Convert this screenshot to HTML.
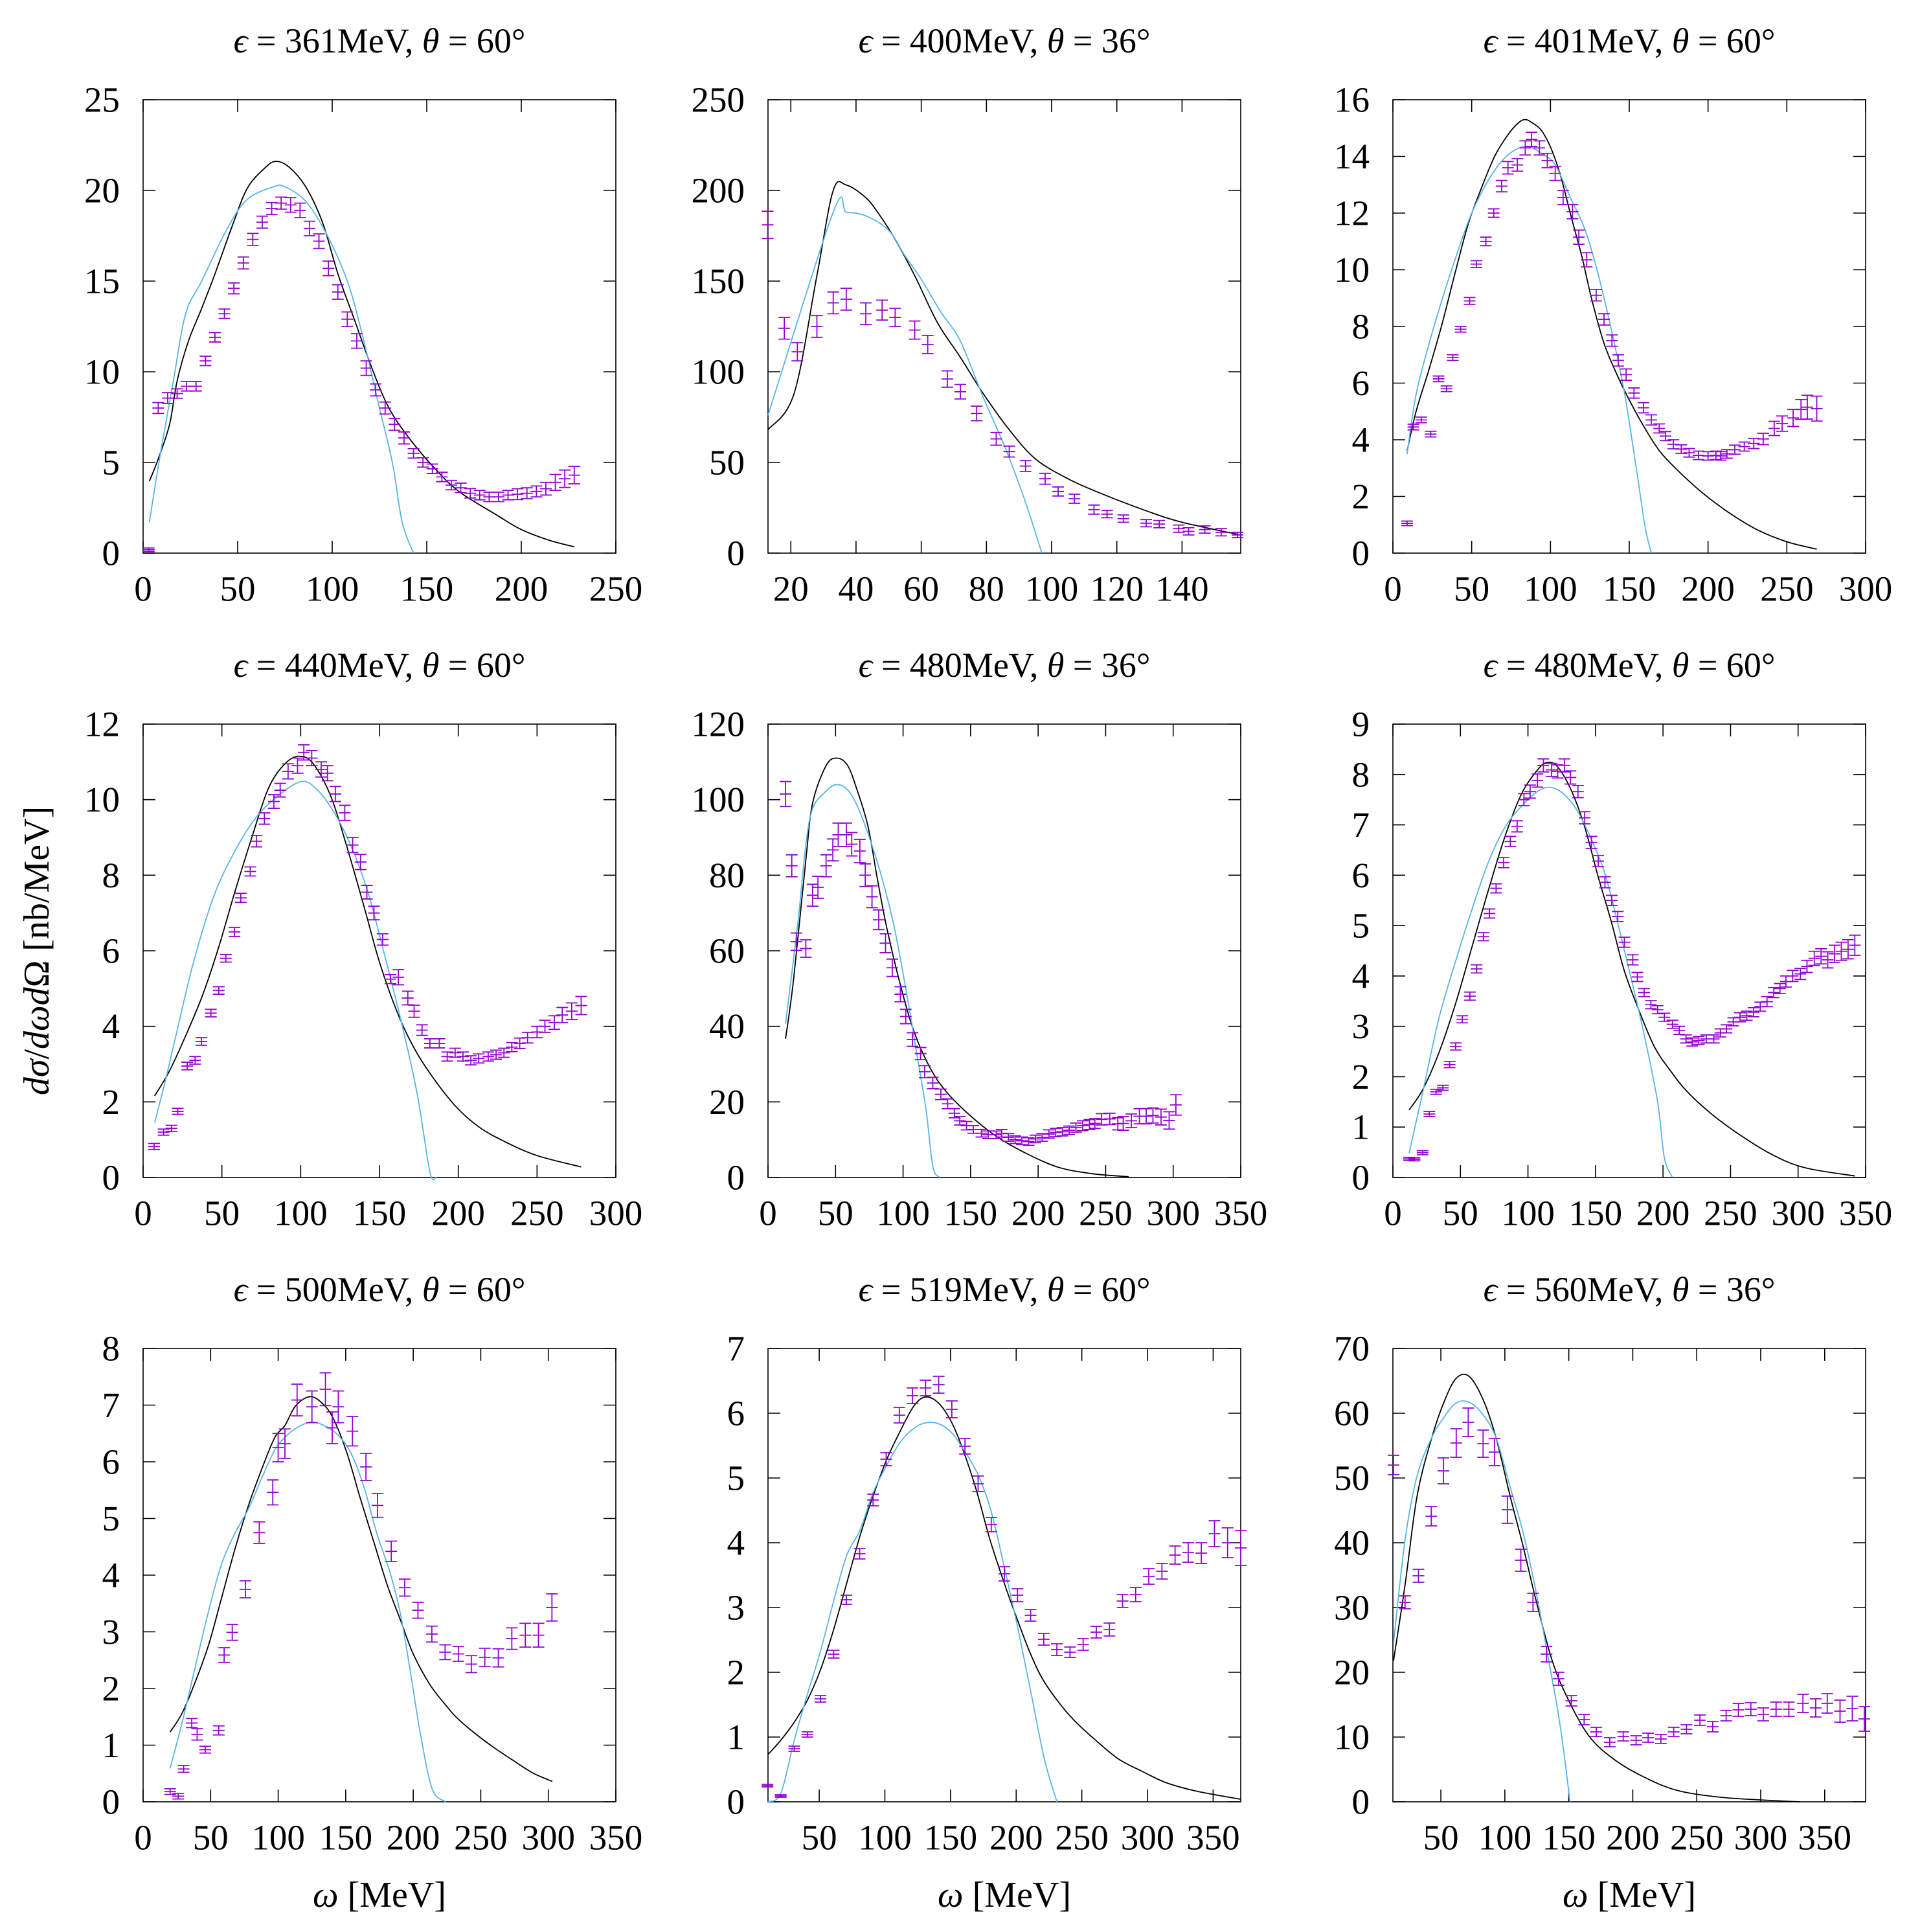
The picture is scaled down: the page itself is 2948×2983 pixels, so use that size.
<!DOCTYPE html>
<html><head><meta charset="utf-8"><title>Cross section panels</title>
<style>
html,body{margin:0;padding:0;background:#fff;}
svg{display:block;}
text{font-family:"Liberation Serif","DejaVu Serif",serif;fill:#000;}
</style></head>
<body>
<svg id="fig" xmlns="http://www.w3.org/2000/svg" width="2948" height="2983" viewBox="0 0 2948 2983"></svg>
<script>
// ---------- Panel 1: 361 MeV, 60 deg ----------
const p1Black=[[3.3,3.96],[8,5.2],[14,7.1],[18,9.5],[24,11.7],[31,13.5],[38,15.4],[47,18],[55,20.1],[64,21.2],[70,21.6],[77,21.3],[86,20.2],[95,18.2],[103,15.4],[112,12.8],[121,10.2],[130,8],[141,6.3],[154,4.7],[167,3.4],[187,2.1],[200,1.3],[215,0.7],[228,0.35]];
const p1Blue=[[3.3,1.7],[9,5.4],[16,9.5],[22.5,13.2],[31,15],[44,17.8],[55,19.5],[69,20.2],[75,20.2],[86,19.4],[97,17.6],[108,15],[116,12],[125,8],[132,4.9],[137,1.7],[143,0]];
const p1DataX=[3,8,13,18,23,28,33,38,43,48,53,58,63,68,73,78,83,88,93,98,103,108,113,118,123,128,133,138,143,148,153,158,163,168,173,178,183,188,193,198,203,208,213,218,223,228];
const p1DataY=[0.18,8.0,8.55,8.8,9.2,9.2,10.6,11.9,13.2,14.6,16.0,17.3,18.25,19.0,19.3,19.2,18.9,17.9,17.2,15.7,14.4,12.9,11.7,10.2,9.0,8.0,7.1,6.35,5.5,5.0,4.65,4.2,3.75,3.6,3.3,3.2,3.1,3.1,3.2,3.25,3.3,3.4,3.55,3.9,4.1,4.3];
const p1Err=[0.1,0.3,0.3,0.26,0.26,0.26,0.26,0.26,0.26,0.3,0.33,0.33,0.33,0.33,0.33,0.4,0.4,0.4,0.4,0.4,0.4,0.4,0.4,0.4,0.33,0.33,0.33,0.33,0.26,0.26,0.26,0.26,0.26,0.26,0.26,0.26,0.26,0.26,0.26,0.3,0.3,0.3,0.35,0.44,0.48,0.48];
const p1XTicks=[0,50,100,150,200,250];
const p1YTicks=[0,5,10,15,20,25];

// ---------- Panel 2: 400 MeV, 36 deg ----------
const p2Black=[[13,68],[21,88],[28,153],[33,200],[37,203],[43,196],[47,187],[52,173],[58,153],[65,127],[72,108],[79,88],[87,68],[95,52],[105,41],[115,33],[128,24],[140,17],[158,10]];
const p2Blue=[[13,76],[33,188],[37,188],[43,186],[50,178],[55,164],[60,151],[66,133],[72,117],[79,86],[86,57],[92,28],[97,0]];
const p2DataX=[12.9,18,22,28,33,37,43,48,52,58,62,68,72,77,83,87,92,98,102,107,113,117,122,129,133,139,142,147,152,157];
const p2DataY=[181,124,111,125,138,140,132,134,130,123,115,96,89,77,63,56,48,41,34,30,24,21.5,19,16.5,16,13.5,12,13,11.5,10];
const p2Err=[7.5,6,5,6,6,6,6,5.5,5,5,5,4.5,4,4,3.5,3,3,3,2.5,2.5,2.5,2,2,2,2,2,2,2,2,1.5];
const p2XTicks=[20,40,60,80,100,120,140];
const p2YTicks=[0,50,100,150,200,250];

// ---------- Panel 3: 401 MeV, 60 deg ----------
const p3Black=[[9,3.6],[14.7,5.0],[23,6.5],[31.5,8.15],[40,10],[48,11.65],[57,13],[65,14.05],[73.5,14.8],[80,15.2],[84,15.3],[88,15.2],[94.5,14.9],[101,14.2],[107,13.2],[113,11.9],[120,10.45],[126,9.0],[134,7.4],[143,6.2],[151,5.3],[160,4.4],[170,3.55],[183,2.8],[197,2.1],[214,1.4],[231,0.83],[250,0.4],[269,0.14]];
const p3Blue=[[9,3.5],[14.7,5.6],[23,7.4],[31.5,9.0],[40,10.45],[50,12],[61,13.2],[71,13.95],[80,14.3],[87,14.33],[94.5,14.1],[103,13.7],[113,12.5],[122,11.4],[130,9.9],[139,7.8],[147,5.64],[155,2.8],[160,0.94],[164,0]];
const p3DataX=[9,13,18,24,29,34,38,43,48.7,53,59,64,69,73,79,84,88,93,98,103,108,114,118,123,129,134,139,143,148,153,159,164,169,173,178,183,188,194,200,205,208,212,217,223,229,235,242,247,254,259,263,269];
const p3DataY=[1.05,4.45,4.7,4.2,6.15,5.8,6.9,7.9,8.9,10.2,11.0,12.0,12.95,13.6,13.7,14.3,14.6,14.3,13.85,13.4,12.55,12.05,11.15,10.35,9.1,8.25,7.5,6.8,6.3,5.65,5.13,4.7,4.4,4.13,3.84,3.67,3.54,3.45,3.43,3.45,3.43,3.5,3.65,3.76,3.87,4.03,4.4,4.57,4.77,5.07,5.15,5.1];
const p3Err=[0.08,0.1,0.1,0.1,0.1,0.1,0.1,0.1,0.12,0.12,0.15,0.15,0.2,0.22,0.22,0.25,0.25,0.25,0.25,0.25,0.25,0.25,0.25,0.25,0.2,0.2,0.2,0.2,0.2,0.18,0.18,0.18,0.16,0.16,0.16,0.15,0.15,0.15,0.15,0.15,0.15,0.15,0.16,0.16,0.18,0.2,0.25,0.27,0.3,0.35,0.42,0.44];
const p3XTicks=[0,50,100,150,200,250,300];
const p3YTicks=[0,2,4,6,8,10,12,14,16];

// ---------- Panel 4: 440 MeV, 60 deg ----------
const p4Black=[[7.3,2.16],[16.5,2.8],[27,3.75],[37.5,4.8],[48,6.1],[58.5,7.6],[69,9.0],[79.5,10.3],[90,10.95],[99,11.15],[108,10.95],[119,10.1],[129,8.8],[140,7.2],[150,5.7],[161,4.4],[171,3.5],[182,2.76],[198,1.9],[213,1.34],[229,0.96],[250,0.58],[278,0.28]];
const p4Blue=[[7.3,1.45],[14,2.54],[22,3.96],[32,5.7],[45,7.46],[58.5,8.66],[71.7,9.53],[85,10.08],[100.5,10.48],[111,10.24],[121.5,9.64],[132,8.77],[142.5,7.57],[153,5.93],[163.5,4.18],[174,2.2],[182,0.14],[186,0]];
const p4DataX=[7,13,18,22,28,33,37,43,48,52.5,58,62,68,72,77,83,87,92,98,102,107,113,117,122,128,133,138,142,146.5,152,157,162,168,172,177,182,188,193,198,203,208,213,219,224,229,234,239,244,250,255,261,266,272,278];
const p4DataY=[0.82,1.2,1.3,1.75,2.95,3.1,3.6,4.35,4.95,5.8,6.5,7.4,8.1,8.9,9.5,9.95,10.25,10.75,10.9,11.25,11.1,10.8,10.7,10.15,9.65,8.8,8.35,7.55,7.0,6.3,5.25,5.3,4.75,4.4,3.9,3.55,3.55,3.2,3.3,3.2,3.1,3.15,3.2,3.25,3.3,3.45,3.55,3.7,3.85,4.0,4.1,4.3,4.4,4.55];
const p4Err=[0.08,0.08,0.08,0.08,0.1,0.1,0.1,0.1,0.1,0.1,0.12,0.12,0.12,0.15,0.15,0.18,0.18,0.2,0.2,0.2,0.2,0.2,0.2,0.2,0.2,0.2,0.2,0.18,0.18,0.15,0.12,0.2,0.18,0.16,0.14,0.12,0.12,0.12,0.12,0.12,0.12,0.12,0.12,0.12,0.12,0.12,0.14,0.14,0.15,0.16,0.18,0.2,0.22,0.24];
const p4XTicks=[0,50,100,150,200,250,300];
const p4YTicks=[0,2,4,6,8,10,12];

// ---------- Panel 5: 480 MeV, 36 deg ----------
const p5Black=[[13,36.7],[19,52.6],[28,84],[33,99],[43,109],[51,111],[59,109],[66,102.5],[74,93],[81,79],[88,66],[98,51],[108,38.7],[120,29],[132,22.7],[149,16.6],[169,10.9],[191,6.4],[215,2.7],[240,1],[267,0.2]];
const p5Blue=[[13,40.7],[22,67],[28,88],[33,97.6],[41.4,101.7],[51,104],[61,101.7],[71,94],[83,81],[93,67],[103,48],[110,33],[117,18],[122,3],[127,0]];
const p5DataX=[13,17.6,21,28,33,37,43,48,52,58,62,68,72,77,82,87,92,98,102,107,113,116,122,128,133,138,142,147,152,158,163,169,173,178,183,188,193,198,203,208,213,218,223,228,233,238,242,247,253,259,263,269,275,280,285,291,297,302];
const p5DataY=[101.5,82.5,62.4,60.6,74.7,76.8,82.5,86.7,90.7,90.7,88.2,86.4,80,74.3,68.2,62,55.5,48.5,42.6,36.5,32.8,28,25,22,19.5,17,15,13.7,12.7,11.7,11.3,11.3,11.7,10.6,10,9.7,9.5,10.2,10.6,11.5,11.9,12.1,12.5,13.2,13.7,14,14.3,15.4,15.5,14.2,14.3,15,16.2,16.2,16.4,16,15.1,19.2];
const p5Err=[3.3,2.9,2.3,2.3,2.9,2.9,2.9,2.9,3.1,3.1,3.1,3.1,3.0,2.9,2.6,2.5,2.3,2.0,1.9,1.8,1.6,1.6,1.5,1.4,1.3,1.2,1.1,1.1,1.0,1.0,1.0,1.0,1.0,1.0,1.0,1.0,1.0,1.0,1.0,1.1,1.1,1.1,1.1,1.2,1.3,1.3,1.3,1.5,1.5,1.6,1.8,1.8,2.0,2.0,2.0,2.1,2.3,2.7];
const p5XTicks=[0,50,100,150,200,250,300,350];
const p5YTicks=[0,20,40,60,80,100,120];

// ---------- Panel 6: 480 MeV, 60 deg ----------
const p6Black=[[12,1.34],[22,1.74],[34,2.47],[46.5,3.46],[59,4.62],[71,5.73],[83,6.77],[95.5,7.63],[108,8.12],[115,8.24],[122,8.15],[132,7.69],[142,6.96],[152,5.97],[162,5.05],[171,4.13],[181,3.4],[193.5,2.6],[206,2.1],[218,1.7],[235,1.28],[255,0.88],[279,0.48],[304,0.2],[342,0.03]];
const p6Blue=[[12,0.48],[22,1.68],[34,3.15],[46.5,4.3],[59,5.36],[71,6.28],[83,6.95],[95.5,7.38],[108,7.68],[117.5,7.74],[127,7.6],[137,7.26],[147,6.71],[157,6.03],[166.5,5.05],[176,4.0],[186,2.84],[196,1.5],[201,0.39],[207,0]];
const p6DataX=[12,16,22,27,32,37,42,46.5,51.4,57,62,67,71.5,76.4,82,87,92,97,101.6,107,111.4,117.5,122,127,131.5,137,142,147,152,157,162,166.5,171.4,177.6,181,186,191,196,201,207,212,217,221.6,226.5,232,237.6,242.5,247,252,257,262,267,272,277,282,286.6,291,296,301.7,306.6,312,317,322,327,332,337,342];
const p6DataY=[0.37,0.36,0.49,1.26,1.7,1.78,2.24,2.6,3.14,3.6,4.14,4.78,5.24,5.74,6.25,6.67,6.97,7.5,7.66,7.88,8.18,8.09,8.06,8.18,7.94,7.66,7.14,6.65,6.28,5.86,5.5,5.18,4.67,4.32,3.98,3.67,3.43,3.33,3.18,3.04,2.92,2.75,2.69,2.72,2.75,2.75,2.87,2.95,3.09,3.18,3.21,3.28,3.39,3.49,3.67,3.75,3.89,4.0,4.04,4.19,4.35,4.39,4.32,4.44,4.49,4.53,4.61];
const p6Err=[0.03,0.03,0.04,0.05,0.05,0.05,0.06,0.07,0.07,0.08,0.08,0.08,0.09,0.09,0.1,0.1,0.11,0.12,0.13,0.13,0.13,0.13,0.13,0.13,0.13,0.12,0.12,0.12,0.11,0.11,0.1,0.1,0.1,0.1,0.09,0.08,0.08,0.08,0.08,0.08,0.08,0.08,0.08,0.08,0.08,0.08,0.08,0.08,0.08,0.09,0.09,0.09,0.09,0.1,0.1,0.1,0.11,0.11,0.11,0.12,0.14,0.15,0.16,0.17,0.18,0.19,0.2];
const p6XTicks=[0,50,100,150,200,250,300,350];
const p6YTicks=[0,1,2,3,4,5,6,7,8,9];

// ---------- Panel 7: 500 MeV, 60 deg ----------
const p7Black=[[20,1.23],[29,1.57],[38.7,2.12],[48.5,2.77],[58,3.59],[68,4.46],[78,5.23],[88,5.88],[97.5,6.43],[105,6.64],[113,6.99],[124,7.15],[134,7.0],[141.5,6.73],[151,6.15],[161,5.34],[171,4.57],[181,3.81],[190.5,3.21],[200,2.61],[212.6,2.06],[225,1.68],[232,1.49],[244,1.24],[259,0.97],[274,0.73],[288.5,0.51],[303,0.36]];
const p7Blue=[[20,0.59],[29,1.41],[38.7,2.39],[48.5,3.37],[58,4.19],[68,4.74],[78,5.17],[88,5.72],[97.5,6.21],[105,6.43],[113,6.59],[124,6.7],[134,6.64],[144,6.48],[154,6.15],[163.6,5.55],[173,4.74],[183,4.03],[190.5,3.32],[198,2.28],[205,1.24],[214,0.23],[224,0]];
const p7DataX=[20,26,30,36,40,46,56,60,66,75.7,86,96,100,105,114,125,135,140,144.5,155,165,173.6,183.7,193.7,203.5,213.8,223.6,233.4,243,253,263,273,283,292.7,302.7];
const p7DataY=[0.18,0.1,0.58,1.39,1.19,0.92,1.26,2.59,2.99,3.75,4.75,5.46,6.25,6.32,7.09,6.97,7.28,6.6,6.97,6.54,5.91,5.23,4.42,3.78,3.38,2.96,2.64,2.61,2.43,2.55,2.54,2.88,2.94,2.94,3.43];
const p7Err=[0.05,0.05,0.06,0.08,0.1,0.06,0.08,0.13,0.14,0.15,0.19,0.22,0.25,0.26,0.28,0.28,0.29,0.28,0.28,0.26,0.24,0.21,0.18,0.15,0.14,0.14,0.13,0.13,0.15,0.16,0.16,0.19,0.21,0.21,0.24];
const p7XTicks=[0,50,100,150,200,250,300,350];
const p7YTicks=[0,1,2,3,4,5,6,7,8];

// ---------- Panel 8: 519 MeV, 60 deg ----------
const p8Black=[[11,0.73],[20.7,0.95],[31,1.23],[41,1.57],[51,2.04],[61,2.66],[71,3.38],[81,4.1],[91,4.72],[101.5,5.29],[111.6,5.72],[121.7,6.1],[130.6,6.25],[140.7,6.16],[150.8,5.86],[159.6,5.43],[169.7,4.81],[180,4.05],[190,3.43],[200,2.86],[210,2.33],[220,1.9],[233,1.52],[245.5,1.23],[260.6,0.95],[278,0.66],[296,0.47],[313.6,0.3],[334,0.18],[354,0.1],[371,0.04]];
const p8Blue=[[11,0],[20.7,0.13],[31,0.95],[41,1.66],[51,2.33],[61,3.1],[71,3.81],[81,4.19],[91,4.77],[101.5,5.2],[111.6,5.55],[121.7,5.76],[130.6,5.85],[140.7,5.84],[150.8,5.7],[160.8,5.41],[171,5.05],[181,4.48],[191,3.62],[201,2.71],[211,1.71],[221.5,0.66],[231,0]];
const p8DataX=[10.6,20.7,31,41,51,61,70.7,80.8,91,101,111,121,131,141,151,161,171,181,191,201,211,221,231,241,251,261,271,281,291,301,311,321,331,341,351,361,371];
const p8DataY=[0.25,0.09,0.82,1.04,1.59,2.28,3.12,3.83,4.66,5.29,5.97,6.27,6.39,6.44,6.06,5.49,4.91,4.28,3.52,3.19,2.88,2.51,2.35,2.31,2.43,2.62,2.66,3.1,3.2,3.48,3.56,3.81,3.85,3.84,4.14,4.0,3.92];
const p8Err=[0.02,0.02,0.04,0.04,0.05,0.06,0.07,0.08,0.09,0.1,0.12,0.12,0.12,0.13,0.13,0.12,0.12,0.11,0.11,0.1,0.09,0.09,0.09,0.08,0.09,0.09,0.1,0.1,0.11,0.12,0.12,0.14,0.15,0.16,0.2,0.23,0.27];
const p8XTicks=[50,100,150,200,250,300,350];
const p8YTicks=[0,1,2,3,4,5,6,7];

// ---------- Panel 9: 560 MeV, 36 deg ----------
const p9Black=[[13,21.8],[22,33.5],[31.5,47.3],[43,56.3],[52.6,61.8],[62,65.4],[72,65.7],[83,62.1],[93,56.3],[104,47.3],[114,39.7],[124,31.4],[137,21.8],[150,15.6],[166,10.1],[185,6.6],[208,3.9],[234,1.8],[266,0.76],[299,0.3],[331,0]];
const p9Blue=[[13,24.6],[22,40.4],[31.5,50.4],[43,56.3],[52.6,59.4],[62,61.6],[72,61.7],[82,60],[93,56.3],[104,48.7],[114,41.8],[124,32.8],[133,23.2],[143,12.1],[151,0]];
const p9DataX=[13,22,32.5,42.5,52,62,71.4,83,92,102,112.5,122,132.6,142,152,162,171.5,182,192.5,202.6,212,222,232,242,252.5,262.5,273,282.6,292.3,302,312,322,333,343,352,362,371.6,381];
const p9DataY=[52,30.8,34.9,44.1,51.1,55.4,58.6,55.3,54,45.1,37.3,30.8,22.8,19,15.6,12.7,10.8,9.2,10.1,9.5,9.9,9.7,10.8,11.2,12.6,11.6,13.3,14.2,14.3,13.5,14.3,14.3,15.2,14.5,15.2,14,14.4,12.8];
const p9Err=[1.5,1,1,1.5,2,2.2,2.2,2.1,2.1,2.1,1.7,1.4,1.2,1,0.8,0.8,0.7,0.7,0.7,0.7,0.7,0.7,0.7,0.7,0.8,0.8,0.8,1,1,1,1.1,1.1,1.4,1.4,1.5,1.7,1.9,1.9];
const p9XTicks=[50,100,150,200,250,300,350];
const p9YTicks=[0,10,20,30,40,50,60,70];

// ---------- layout (not data) ----------
const NS="http://www.w3.org/2000/svg";
const svg=document.getElementById('fig');
const colX=[221,1186,2151], rowY=[154,1118,2082], PW=730, PH=700;

const panels=[
 {id:'p1',col:0,row:0,xr:[0,250],yr:[0,25],e:'361',t:'60',black:p1Black,blue:p1Blue,dx:p1DataX,dy:p1DataY,de:p1Err,xt:p1XTicks,yt:p1YTicks},
 {id:'p2',col:1,row:0,xr:[13,158],yr:[0,250],e:'400',t:'36',black:p2Black,blue:p2Blue,dx:p2DataX,dy:p2DataY,de:p2Err,xt:p2XTicks,yt:p2YTicks},
 {id:'p3',col:2,row:0,xr:[0,300],yr:[0,16],e:'401',t:'60',black:p3Black,blue:p3Blue,dx:p3DataX,dy:p3DataY,de:p3Err,xt:p3XTicks,yt:p3YTicks},
 {id:'p4',col:0,row:1,xr:[0,300],yr:[0,12],e:'440',t:'60',black:p4Black,blue:p4Blue,dx:p4DataX,dy:p4DataY,de:p4Err,xt:p4XTicks,yt:p4YTicks},
 {id:'p5',col:1,row:1,xr:[0,350],yr:[0,120],e:'480',t:'36',black:p5Black,blue:p5Blue,dx:p5DataX,dy:p5DataY,de:p5Err,xt:p5XTicks,yt:p5YTicks},
 {id:'p6',col:2,row:1,xr:[0,350],yr:[0,9],e:'480',t:'60',black:p6Black,blue:p6Blue,dx:p6DataX,dy:p6DataY,de:p6Err,xt:p6XTicks,yt:p6YTicks},
 {id:'p7',col:0,row:2,xr:[0,350],yr:[0,8],e:'500',t:'60',black:p7Black,blue:p7Blue,dx:p7DataX,dy:p7DataY,de:p7Err,xt:p7XTicks,yt:p7YTicks},
 {id:'p8',col:1,row:2,xr:[11,371],yr:[0,7],e:'519',t:'60',black:p8Black,blue:p8Blue,dx:p8DataX,dy:p8DataY,de:p8Err,xt:p8XTicks,yt:p8YTicks},
 {id:'p9',col:2,row:2,xr:[12.5,382],yr:[0,70],e:'560',t:'36',black:p9Black,blue:p9Blue,dx:p9DataX,dy:p9DataY,de:p9Err,xt:p9XTicks,yt:p9YTicks}
];

function mk(tag,attrs,parent){
  const el=document.createElementNS(NS,tag);
  for(const k in attrs) el.setAttribute(k,attrs[k]);
  parent.appendChild(el);
  return el;
}

// Catmull-Rom smooth path through screen points
function smoothPath(pts){
  let d='M'+pts[0][0].toFixed(1)+' '+pts[0][1].toFixed(1);
  for(let i=0;i<pts.length-1;i++){
    const p0=pts[i-1]||pts[i], p1=pts[i], p2=pts[i+1], p3=pts[i+2]||pts[i+1];
    const c1x=p1[0]+(p2[0]-p0[0])/6, c1y=p1[1]+(p2[1]-p0[1])/6;
    const c2x=p2[0]-(p3[0]-p1[0])/6, c2y=p2[1]-(p3[1]-p1[1])/6;
    d+='C'+c1x.toFixed(1)+' '+c1y.toFixed(1)+' '+c2x.toFixed(1)+' '+c2y.toFixed(1)+' '+p2[0].toFixed(1)+' '+p2[1].toFixed(1);
  }
  return d;
}

panels.forEach(p=>{
  const x0=colX[p.col], y0=rowY[p.row];
  const sx=v=>x0+(v-p.xr[0])/(p.xr[1]-p.xr[0])*PW;
  const sy=v=>y0+PH-(v-p.yr[0])/(p.yr[1]-p.yr[0])*PH;
  const g=mk('g',{},svg);
  
  

  const tt=mk('text',{x:x0+PW/2,y:y0-91,'text-anchor':'middle','dominant-baseline':'central','font-size':54},g);
  
  
  const a=mk('tspan',{'font-style':'italic'},tt); a.textContent='ϵ';
  const b=mk('tspan',{},tt); b.textContent=' = '+p.e+'MeV, ';
  const c=mk('tspan',{'font-style':'italic'},tt); c.textContent='θ';
  const d=mk('tspan',{},tt); d.textContent=' = '+p.t+'°';

  const fr=mk('rect',{x:x0,y:y0,width:PW,height:PH,fill:'none',stroke:'#000','stroke-width':1.6},g);
  
  

  p.xt.forEach(v=>{
    const X=sx(v);
    mk('line',{x1:X,y1:y0+PH,x2:X,y2:y0+PH-19,stroke:'#000','stroke-width':1.6},g);
    mk('line',{x1:X,y1:y0,x2:X,y2:y0+19,stroke:'#000','stroke-width':1.6},g);
    const lab=mk('text',{x:X,y:y0+PH+55,'text-anchor':'middle','dominant-baseline':'central','font-size':55},g);
    
    
    lab.textContent=String(v);
  });
  p.yt.forEach(v=>{
    const Y=sy(v);
    mk('line',{x1:x0,y1:Y,x2:x0+19,y2:Y,stroke:'#000','stroke-width':1.6},g);
    mk('line',{x1:x0+PW,y1:Y,x2:x0+PW-19,y2:Y,stroke:'#000','stroke-width':1.6},g);
    const lab=mk('text',{x:x0-36,y:Y,'text-anchor':'end','dominant-baseline':'central','font-size':55},g);
    
    
    lab.textContent=String(v);
  });

  const blk=mk('path',{d:smoothPath(p.black.map(q=>[sx(q[0]),sy(q[1])])),fill:'none',stroke:'#000','stroke-width':1.8,'stroke-linejoin':'round'},g);
  
  
  const blu=mk('path',{d:smoothPath(p.blue.map(q=>[sx(q[0]),sy(q[1])])),fill:'none',stroke:'#56b4e9','stroke-width':1.8,'stroke-linejoin':'round'},g);
  
  

  p.dx.forEach((xv,i)=>{
    const yv=p.dy[i]; const e=(p.de[i]!==undefined)?p.de[i]:0;
    const X=sx(xv), Y=sy(yv), Yt=sy(yv+e), Yb=sy(yv-e);
    const dpath='M'+X+' '+Yt+'V'+Yb+'M'+(X-9)+' '+Yt+'H'+(X+9)+'M'+(X-9)+' '+Yb+'H'+(X+9)+'M'+(X-9)+' '+Y+'H'+(X+9);
    const pt=mk('path',{d:dpath,fill:'none',stroke:'#9400d3','stroke-width':1.8},g);
    
    
  });

  if(p.row===2){
    const xl=mk('text',{x:x0+PW/2,y:y0+PH+144,'text-anchor':'middle','dominant-baseline':'central','font-size':56},g);
    
    
    const w=mk('tspan',{'font-style':'italic'},xl); w.textContent='ω';
    const m=mk('tspan',{},xl); m.textContent=' [MeV]';
  }
});

const yl=mk('text',{x:0,y:0,'text-anchor':'middle','dominant-baseline':'central','font-size':56,transform:'translate(57,1468) rotate(-90)'},svg);


const y1=mk('tspan',{'font-style':'italic'},yl); y1.textContent='dσ';
const y2=mk('tspan',{},yl); y2.textContent='/';
const y3=mk('tspan',{'font-style':'italic'},yl); y3.textContent='dωd';
const y4=mk('tspan',{},yl); y4.textContent='Ω [nb/MeV]';
</script>
</body></html>
